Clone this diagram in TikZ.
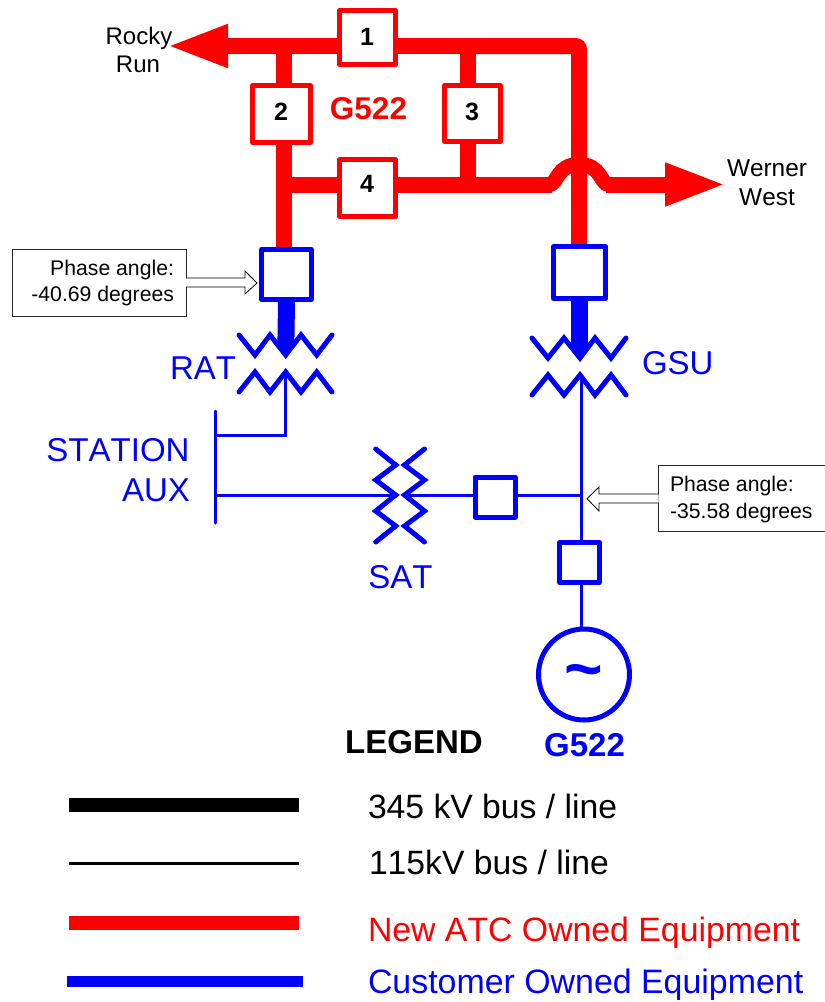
\documentclass[tikz,border=0pt]{standalone}
\usepackage{fontspec}
\setmainfont[Kerning=Off]{Liberation Sans}
\usetikzlibrary{arrows.meta,calc}
\newcommand{\fsz}[1]{\fontsize{#1}{#1}\selectfont}
\tikzset{
  redbus/.style={draw=red,line width=16pt,line join=round},
  redhop/.style={draw=red,line width=15pt},
  redtip/.style={-{Triangle[length=62pt,width=39pt]}},
  redbox/.style={draw=red,fill=white,line width=5pt,line join=round,rectangle,inner sep=0pt,minimum width=#1},
  bluebox/.style={draw=blue,fill=white,line width=5pt,line join=round,rectangle,inner sep=0pt,minimum size=#1},
  blueline/.style={draw=blue,line width=3pt},
  bluethick/.style={draw=blue,line width=17pt,-{Triangle[length=13pt,width=17pt]}},
  zig/.style={draw=blue,line width=5pt,line cap=round,line join=miter},
  note/.style={draw=black!85,fill=white,line width=0.8pt,rectangle,inner sep=0pt},
  hollow/.style={draw=black,fill=white,line width=0.8pt},
  txt/.style={inner sep=0pt,outer sep=0pt,anchor=base,font=\fsz{#1}},
  txtw/.style={inner sep=0pt,outer sep=0pt,anchor=base west,font=\fsz{#1}},
  txte/.style={inner sep=0pt,outer sep=0pt,anchor=base east,font=\fsz{#1}},
  num/.style={inner sep=0pt,outer sep=0pt,anchor=base,font=\fsz{25}\bfseries},
}
\begin{document}
\begin{tikzpicture}[x=1pt,y=-1pt]
\clip (0,0) rectangle (825,1002);
\fill[white] (0,0) rectangle (825,1002);
% junctions
\coordinate (rrArrow) at (166,46);
\coordinate (j12) at (284,46);
\coordinate (j13) at (468,46);
\coordinate (corner) at (579,46);
\coordinate (j24) at (284,184.5);
\coordinate (j34) at (468,184.5);
\coordinate (hopIn) at (549,184.5);
\coordinate (hopOut) at (609,184.5);
\coordinate (wwArrow) at (727,184.5);
\coordinate (bLc) at (286.5,274.5);
\coordinate (bRc) at (579.5,272.5);
% red network
\draw[redbus,redtip] (j13) -- (rrArrow);
\draw[redbus,rounded corners=3pt] (j13) -- (corner) -- (579,248);
\draw[redbus] (j12) -- (284,248);
\draw[redbus] (j13) -- (j34);
\draw[redbus] (j24) -- (552,184.5);
\draw[redhop] (hopIn) .. controls (558,184.5) and (556,164.5) .. (579,164.5) .. controls (602,164.5) and (600,184.5) .. (hopOut);
\draw[redbus,redtip] (606,184.5) -- (wwArrow);
% breakers
\node[redbox=55.5pt,minimum height=54pt] (b1) at (367.5,37.5) {};
\node[redbox=58pt,minimum height=57pt] (b2) at (281.5,114) {};
\node[redbox=56pt,minimum height=56pt] (b3) at (472.5,113.5) {};
\node[redbox=55.5pt,minimum height=57pt] (b4) at (367.5,188) {};
\node[num] (n1) at (367,45) {1};
\node[num] (n2) at (281,120) {2};
\node[num] (n3) at (472,120) {3};
\node[num] (n4) at (367,192.7) {4};
\node[txt=31.5,text=red,font=\fsz{31.5}\bfseries] (tG1) at (368.5,119) {G522};
% step-up breakers
\node[bluebox=50pt] (bL) at (bLc) {};
\node[bluebox=52pt] (bR) at (bRc) {};
% transformers
\coordinate (ratTop) at (285.7,357);
\coordinate (gsuTop) at (579.5,360);
\coordinate (ratBot) at (285,372);
\coordinate (gsuBot) at (581,375);
\draw[bluethick] (bL.south) -- (ratTop);
\draw[bluethick] (bR.south) -- (gsuTop);
\draw[zig] (239,335) -- (255,355) -- (270,335) -- (285.7,355) -- (301,335) -- (316.7,355) -- (332,335);
\draw[zig] (239,392) -- (255,372) -- (270,392) -- (285.7,372) -- (301,392) -- (316.7,372) -- (332,392);
\draw[zig] (532,338) -- (548,358) -- (564,338) -- (580,358) -- (595,338) -- (611,358) -- (626,338);
\draw[zig] (532,395) -- (548,375) -- (564,395) -- (580,375) -- (595,395) -- (611,375) -- (626,395);
% station aux
\coordinate (busTop) at (215.5,411);
\coordinate (busBot) at (215.5,523);
\coordinate (busA) at (215.5,435.7);
\coordinate (busB) at (215.5,495);
\coordinate (satL) at (395.7,495);
\coordinate (satR) at (404.5,495);
\coordinate (tapJ) at (581,495);
\draw[blueline,line cap=round] (busTop) -- (busBot);
\draw[blueline] (busA) -- (285,435.7) -- (ratBot);
\draw[blueline] (busB) -- (satL);
\node[bluebox=40pt] (bS) at (495,497) {};
\node[bluebox=40pt] (bG) at (579.5,562.5) {};
\node[draw=blue,fill=white,line width=5pt,circle,inner sep=0pt,minimum size=91pt] (gen) at (584,674.5) {};
\draw[blueline] (satR) -- (bS.west|-satR);
\draw[blueline] (bS.east|-tapJ) -- (tapJ);
\draw[blueline] (gsuBot) -- (bG.north-|gsuBot);
\draw[blueline] (bG.south-|gsuBot) -- (gen.north-|gsuBot);
\draw[zig] (375.7,449) -- (395.7,465) -- (375.7,480) -- (395.7,495) -- (375.7,511) -- (395.7,526) -- (375.7,542);
\draw[zig] (424.5,449) -- (404.5,465) -- (424.5,480) -- (404.5,495) -- (424.5,511) -- (404.5,526) -- (424.5,542);
\node[inner sep=0pt,outer sep=0pt,text=blue,font=\fsz{66}\bfseries,anchor=base] (tilde) at (583.5,691) {\char"7E};
% phase notes
\node[note,minimum width=174pt,minimum height=67pt] (pL) at (99,282.5) {};
\node[note,minimum width=180pt,minimum height=66.5pt] (pR) at (748.7,498.25) {};
\node[txte=21.2] (pL1) at (174,275.7) {Phase angle:};
\node[txte=21.2] (pL2) at (174,301.7) {-40.69 degrees};
\node[txtw=21.2] (pR1) at (670,491.7) {Phase angle:};
\node[txtw=21.2] (pR2) at (670,518.3) {-35.58 degrees};
\coordinate (aLs) at (186,278);
\coordinate (aLe) at (186,287);
\coordinate (aRs) at (658.7,494);
\coordinate (aRe) at (658.7,503);
\draw[hollow] (aLs) -- (245,278) -- (245,271) -- (257,283) -- (245,294) -- (245,287) -- (aLe);
\draw[hollow] (aRs) -- (599,494) -- (599,487) -- (587,498.7) -- (599,511) -- (599,503) -- (aRe);
% labels
\node[txt=24] (tRR1) at (139,44) {Rocky};
\node[txt=24] (tRR2) at (138,72.7) {Run};
\node[txt=24.4] (tWW1) at (767,176.7) {Werner};
\node[txt=24.4] (tWW2) at (767,205) {West};
\node[txte=33,text=blue] (tRAT) at (236,379) {RAT};
\node[txtw=33,text=blue] (tGSU) at (642,374) {GSU};
\node[txt=33,text=blue] (tSAT) at (400.5,588) {SAT};
\node[txte=33,text=blue] (tST) at (189.5,461.7) {STATION};
\node[txte=33,text=blue] (tAX) at (190,501.7) {AUX};
\node[txt=33,text=blue,font=\fsz{33}\bfseries] (tG2) at (584.5,756) {G522};
% legend
\node[txt=33,font=\fsz{33}\bfseries] (tLeg) at (414,753) {LEGEND};
\coordinate (l1a) at (69,805); \coordinate (l1b) at (299,805);
\coordinate (l2a) at (69,863); \coordinate (l2b) at (299,863);
\coordinate (l3a) at (69,923); \coordinate (l3b) at (299,923);
\coordinate (l4a) at (67,981.5); \coordinate (l4b) at (303,981.5);
\draw[line width=14pt,black] (l1a) -- (l1b);
\draw[line width=3pt,black] (l2a) -- (l2b);
\draw[line width=14pt,red] (l3a) -- (l3b);
\draw[line width=11pt,blue] (l4a) -- (l4b);
\node[txtw=33.7] (t1) at (368,818) {345 kV bus / line};
\node[txtw=33.7] (t2) at (369,874) {115kV bus / line};
\node[txtw=33.8,text=red] (t3) at (368,941.7) {New ATC Owned Equipment};
\node[txtw=33.9,text=blue] (t4) at (368,993) {Customer Owned Equipment};
\end{tikzpicture}
\end{document}
